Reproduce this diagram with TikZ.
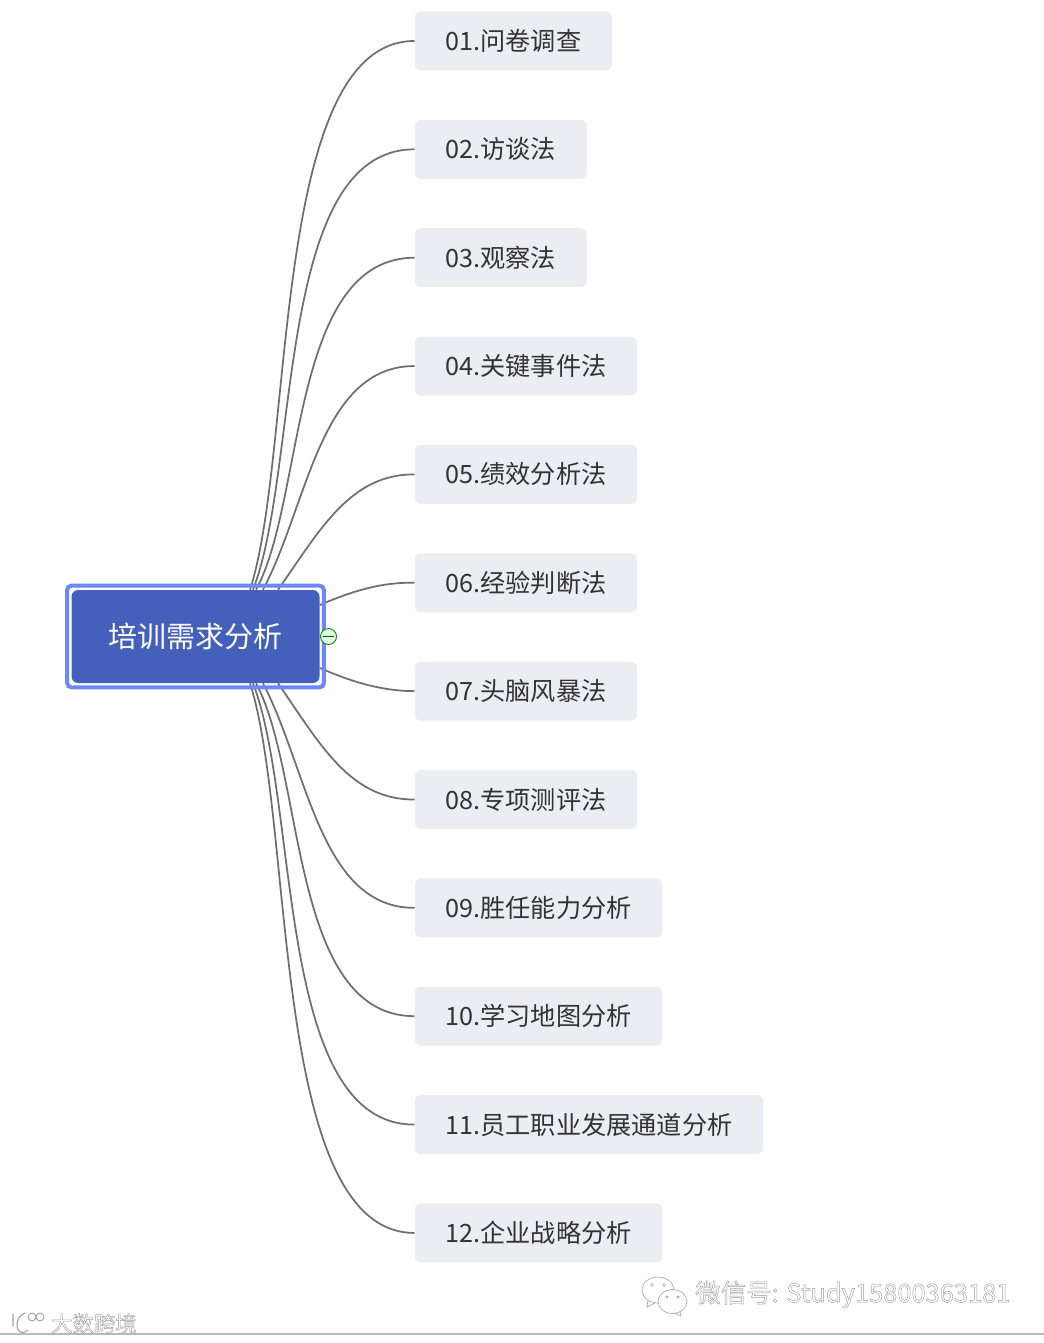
\documentclass[tikz,border=0pt]{standalone}
\usepackage{fontspec}
\setmainfont{Noto Sans CJK SC}
\usetikzlibrary{arrows.meta,positioning,fit,backgrounds}
\definecolor{itemgray}{HTML}{ECECF3}
\definecolor{rootblue}{HTML}{4460BB}
\definecolor{framblue}{HTML}{6C87FF}
\definecolor{linkgray}{HTML}{6E6E6E}
\definecolor{textdark}{HTML}{333333}
\tikzset{
  item/.style ={fill=itemgray,rounded corners=4.5pt,text=textdark,font=\fontsize{18.9pt}{22pt}\selectfont,
                minimum height=44.25pt,inner ysep=0pt,inner xsep=23pt},
  rootbox/.style ={fill=rootblue,rounded corners=5pt,text=white,font=\fontsize{21.75pt}{26pt}\selectfont,
                minimum width=186pt,minimum height=69.75pt,inner sep=0pt},
  framebox/.style={draw=framblue,line width=3pt,rounded corners=3pt,inner sep=3pt},
  link/.style ={draw=linkgray,line width=1.3pt},
  foldmark/.style ={circle,draw=green!45!black,fill=green!12,line width=0.6pt,minimum size=12pt,inner sep=0pt},
  stamp/.style={inner sep=0pt,anchor=west,text=white},
}
% hollow letters for the two stamps at the bottom
\newcommand{\hollow}[1]{\special{pdf:code 1 Tr 0.35 w 0.62 G}#1\special{pdf:code 0 Tr}}

\begin{document}
\begin{tikzpicture}[x=0.75pt,y=-0.75pt,node distance=36.62pt]
\useasboundingbox (0,0) rectangle (1044,1343);
\node[rootbox] (root) at (195.5,636.5) {培训需求分析};
\node[framebox,fit=(root)] (rootframe) {};
\node[item,anchor=north west] (L1) at (414.5,11.2) {01.问卷调查};
\node[item,below=of L1.south west,anchor=north west] (L2) {02.访谈法};
\node[item,below=of L2.south west,anchor=north west] (L3) {03.观察法};
\node[item,below=of L3.south west,anchor=north west] (L4) {04.关键事件法};
\node[item,below=of L4.south west,anchor=north west] (L5) {05.绩效分析法};
\node[item,below=of L5.south west,anchor=north west] (L6) {06.经验判断法};
\node[item,below=of L6.south west,anchor=north west] (L7) {07.头脑风暴法};
\node[item,below=of L7.south west,anchor=north west] (L8) {08.专项测评法};
\node[item,below=of L8.south west,anchor=north west] (L9) {09.胜任能力分析};
\node[item,below=of L9.south west,anchor=north west] (L10) {10.学习地图分析};
\node[item,below=of L10.south west,anchor=north west] (L11) {11.员工职业发展通道分析};
\node[item,below=of L11.south west,anchor=north west] (L12) {12.企业战略分析};
\node[foldmark] (fold) at (328.5,636.5) {};
\draw[green!35!black,line width=0.7pt] ([xshift=2pt]fold.west)--([xshift=-2pt]fold.east);
\begin{scope}[on background layer]
\draw[link] ([xshift=40.9pt]root.north) .. controls (295,450) and (270,41) .. (L1.west);
\draw[link] ([xshift=43.1pt]root.north) .. controls (300,470) and (275,149) .. (L2.west);
\draw[link] ([xshift=45.4pt]root.north) .. controls (305,500) and (290,258) .. (L3.west);
\draw[link] ([xshift=50.6pt]root.north) .. controls (308,505) and (320,366) .. (L4.west);
\draw[link] ([xshift=61.9pt]root.north) .. controls (320,530) and (350,474) .. (L5.west);
\draw[link] ([yshift=23.6pt]root.east) .. controls (350,592) and (380,582) .. (L6.west);
\draw[link] ([yshift=-23.6pt]root.east) .. controls (350,681) and (380,691) .. (L7.west);
\draw[link] ([xshift=61.9pt]root.south) .. controls (320,744) and (350,800) .. (L8.west);
\draw[link] ([xshift=50.6pt]root.south) .. controls (308,769) and (320,908) .. (L9.west);
\draw[link] ([xshift=45.4pt]root.south) .. controls (305,774) and (290,1016) .. (L10.west);
\draw[link] ([xshift=43.1pt]root.south) .. controls (300,804) and (275,1125) .. (L11.west);
\draw[link] ([xshift=40.9pt]root.south) .. controls (295,824) and (270,1233) .. (L12.west);
\end{scope}
% stamps
\draw[gray!55,line width=1.1pt] (0,1334)--(1044,1334);
\draw[gray!70,line width=0.5pt,fill=white] (658,1290) ellipse (16 and 13);
\draw[gray!70,line width=0.5pt] (648,1300)--(647,1307)--(655,1303);
\draw[gray!70,line width=0.5pt,fill=white] (672.5,1301.5) ellipse (14.5 and 12);
\draw[gray!70,line width=0.5pt] (674,1313)--(681,1316)--(680,1311);
\draw[gray!70,line width=0.5pt] (652,1285) circle (1.5) (664,1285) circle (1.5) (667,1297) circle (1.2) (678,1297) circle (1.2);
\node[stamp,font=\fontsize{19.1pt}{22pt}\selectfont] (wx) at (695,1294.5) {\hollow{微信号: Study15800363181}};
\node[stamp,font=\fontsize{16pt}{20pt}\selectfont] (bigdata) at (51,1323.5) {\hollow{大数跨境}};
\draw[gray!75,line width=0.8pt] (13,1314)--(13,1326) (25,1313) .. controls (17,1316) and (15,1326) .. (19,1331) .. controls (21,1333) and (25,1333) .. (28,1330);
\draw[gray!75,line width=0.7pt] (32,1317) circle (4) (40,1317) circle (4);
\end{tikzpicture}
\end{document}
